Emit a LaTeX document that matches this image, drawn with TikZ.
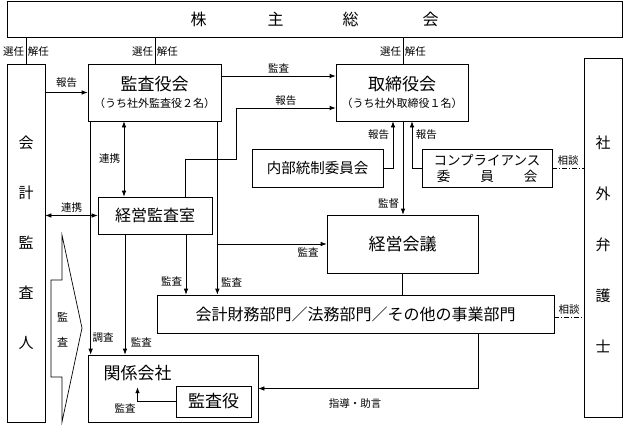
\documentclass[tikz,border=0pt]{standalone}
\usepackage{fontspec}
\setmainfont{Noto Sans CJK JP}
\usepackage{tikz}
\usetikzlibrary{positioning}
\usetikzlibrary{calc}
\usetikzlibrary{arrows.meta}
\tikzstyle{block} = [draw, rectangle, inner sep=0pt]
\tikzstyle{lbl} = [font=\fontsize{10.5}{12}\selectfont, inner sep=1.5pt]
\tikzstyle{soudan} = [dash pattern=on 5pt off 2pt on 1pt off 2pt]

\begin{document}
\begin{tikzpicture}[x=1pt,y=-1pt,line width=0.7pt,>={Latex[length=6pt,width=4.5pt]}]
    \useasboundingbox (0,0) rectangle (623,424);

    \node [block, minimum width=615pt, minimum height=36pt, font=\fontsize{16}{18}\selectfont] (kabunushi) at (314.5,19) {株\hspace{61pt}主\hspace{59pt}総\hspace{64pt}会\hspace{11pt}};
    \node [block, minimum width=38pt, minimum height=358pt, align=center, font=\fontsize{15}{50}\selectfont] (kaikei) at (26,243) {会\\計\\監\\査\\人};
    \node [block, minimum width=133pt, minimum height=57pt, align=center, font=\fontsize{11}{17}\selectfont] (kansayakukai) at (154.5,92.5) {{\fontsize{17}{17}\selectfont 監査役会}\\（うち社外監査役２名）};
    \node [block, minimum width=132pt, minimum height=57pt, align=center, font=\fontsize{11}{17}\selectfont] (torishimari) at (402,92.5) {{\fontsize{17}{17}\selectfont 取締役会}\\（うち社外取締役１名）};
    \node [block, minimum width=114pt, minimum height=37pt, font=\fontsize{16}{18}\selectfont] (keieikansa) at (155,215.5) {経営監査室};
    \node [block, minimum width=131pt, minimum height=38pt, font=\fontsize{14.5}{17}\selectfont] (naibu) at (317.5,168) {内部統制委員会};
    \node [block, minimum width=130pt, minimum height=38pt, align=center, font=\fontsize{13.5}{16}\selectfont] (compliance) at (487,168) {コンプライアンス\\委\hspace{30pt}員\hspace{30pt}会};
    \node [block, minimum width=38pt, minimum height=359pt] (bengoshi) at (603,237.5) {};
    \node [align=center, font=\fontsize{15}{51}\selectfont, yshift=-7pt] (bengoshitext) at (bengoshi.center) {社\\外\\弁\\護\\士};
    \node [block, minimum width=151pt, minimum height=58pt, font=\fontsize{17}{20}\selectfont] (keieikaigi) at (402.5,244) {経営会議};
    \node [block, minimum width=397pt, minimum height=38pt, font=\fontsize{16}{18}\selectfont] (bumon) at (355.5,314) {会計財務部門／法務部門／その他の事業部門};
    \node [block, minimum width=170pt, minimum height=67pt] (kankei) at (173,388.5) {};
    \node [font=\fontsize{17}{20}\selectfont, inner sep=0pt] (kankeitext) at (137.5,373) {関係会社};
    \node [block, minimum width=75pt, minimum height=31pt, font=\fontsize{17}{20}\selectfont] (kansayaku) at (213.5,401.5) {監査役};

    % audit arrow
    \draw (62,235) -- (82,328) -- (62,422) -- (62,377) -- (51,377) -- (51,280) -- (62,280) -- cycle;
    \node [align=center, font=\fontsize{11}{25}\selectfont, inner sep=0pt] (kansaarrow) at (62.5,329.5) {監\\査};

    \draw (kaikei.north) -- node[lbl, left, pos=0.45] {選任} node[lbl, right, pos=0.45] {解任} (kaikei.north |- kabunushi.south);
    \draw ([xshift=0.5pt]kansayakukai.north) -- node[lbl, left, pos=0.45] {選任} node[lbl, right, pos=0.45] {解任} ([xshift=0.5pt]kansayakukai.north |- kabunushi.south);
    \draw ([xshift=1pt]torishimari.north) -- node[lbl, left, pos=0.45] {選任} node[lbl, right, pos=0.45] {解任} ([xshift=1pt]torishimari.north |- kabunushi.south);

    \draw [->] (kansayakukai.west -| kaikei.east) -- node[lbl, above=3pt] {報告} (kansayakukai.west);
    \draw [->] ([yshift=16.5pt]kansayakukai.east) -- node[lbl, above=1pt] {監査} ([yshift=16.5pt]kansayakukai.east -| torishimari.west);
    \draw [->] ([xshift=30pt]keieikansa.north) |- (236,159) -- (236,108) -- node[lbl, above=1pt] {報告} ([yshift=-15.5pt]torishimari.west);

    \draw [<->] ([xshift=-30.5pt]kansayakukai.south) -- node[lbl, left=2pt] {連携} ([xshift=-30.5pt]kansayakukai.south |- keieikansa.north);
    \draw [<->] (keieikansa.west -| kaikei.east) -- node[lbl, above=1pt] {連携} (keieikansa.west);

    \draw [->] ([xshift=3pt]kansayakukai.south west) -- node[lbl, right, pos=0.925] {調査} ([xshift=3pt]kansayakukai.south west |- kankei.north);
    \draw [->] ([xshift=-30pt]keieikansa.south) -- node[lbl, right=4pt, pos=0.9] {監査} ([xshift=-30pt]keieikansa.south |- kankei.north);
    \draw [->] ([xshift=31pt]keieikansa.south) -- node[lbl, left=2pt, pos=0.78] {監査} ([xshift=31pt]keieikansa.south |- bumon.north);
    \draw [->] ([xshift=-4pt]kansayakukai.south east) -- node[lbl, right=2pt, pos=0.93] {監査} ([xshift=-4pt]kansayakukai.south east |- bumon.north);
    \coordinate (branch) at ([xshift=-4pt]kansayakukai.south east |- keieikaigi.west);
    \draw [->] (branch) -- node[lbl, below=2pt, pos=0.83] {監査} (keieikaigi.west);

    \draw [->] ([xshift=1pt]torishimari.south) -- node[lbl, left=2pt, pos=0.88] {監督} ([xshift=1pt]torishimari.south |- keieikaigi.north);
    \draw (keieikaigi.south) -- (keieikaigi.south |- bumon.north);
    \draw [->] (naibu.east) -| node[lbl, left=2pt, pos=0.86] {報告} ([xshift=-9pt]torishimari.south);
    \draw [->] (compliance.west) -| node[lbl, right=2pt, pos=0.86] {報告} ([xshift=10pt]torishimari.south);

    \draw [soudan] (compliance.east) -- node[lbl, above=1pt] {相談} (compliance.east -| bengoshi.west);
    \draw [soudan] ([yshift=-3pt]bumon.east) -- node[lbl, above=1pt] {相談} ([yshift=-3pt]bumon.east -| bengoshi.west);

    \draw [->] (bumon.south -| keieikaigi.south east) |- node[lbl, below=8pt, pos=0.78] {指導・助言} (kankei.east);
    \draw [->] (kansayaku.west) -| node[lbl, below left, pos=0.5] {監査} ([yshift=-6pt]kankeitext.south);

\end{tikzpicture}
\end{document}
